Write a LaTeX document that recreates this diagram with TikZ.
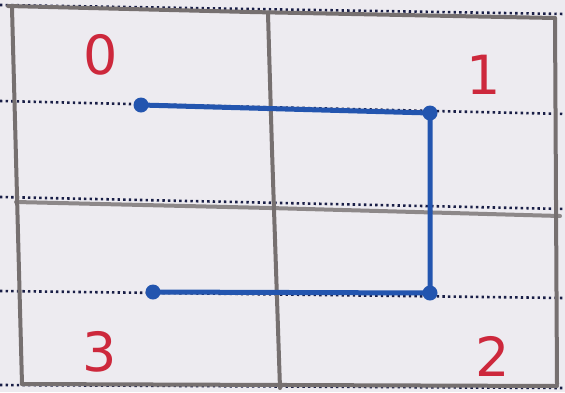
\documentclass[tikz,border=0pt]{standalone}
\usepackage{fontspec}
\setmainfont{DejaVu Sans}
\definecolor{paper}{RGB}{237,235,240}
\definecolor{pencil}{RGB}{118,112,112}
\definecolor{ink}{RGB}{35,85,175}
\definecolor{redink}{RGB}{205,40,60}
\definecolor{dotink}{RGB}{25,30,70}
\tikzset{
  pencilline/.style={draw=pencil, line width=4pt, line cap=round},
  ruled/.style={draw=dotink, line width=2.6pt, dash pattern=on 2.4pt off 3.2pt},
  inkline/.style={draw=ink, line width=5pt, line join=round},
  inkdot/.style={circle, fill=ink, inner sep=0pt, minimum size=15pt},
  digit/.style={text=redink, font=\fontsize{54}{54}\selectfont, inner sep=0pt}
}
\begin{document}
\begin{tikzpicture}[x=1pt,y=-1pt]
\fill[paper] (0,0) rectangle (565,392);
\useasboundingbox (0,0) rectangle (565,392);
% notebook dotted rules
\draw[ruled] (0,5) -- (565,14);
\draw[ruled] (0,101) -- (565,114);
\draw[ruled] (0,197) -- (565,209);
\draw[ruled] (0,291) -- (565,298);
\draw[ruled] (0,385) -- (565,388);
% pencil grid
\draw[pencilline] (8,6) -- (250,12) -- (555,18);
\draw[pencilline] (12,8) -- (22,384);
\draw[pencilline] (555,18) -- (557,384);
\draw[pencilline] (22,384) -- (557,386);
\draw[pencilline] (268,14) -- (272,150) -- (280,388);
\draw[pencilline, line width=4pt, draw opacity=0.8] (16,202) -- (270,208) -- (560,216);
% blue path
\node[inkdot] (a) at (141,105) {};
\node[inkdot] (b) at (430,113) {};
\node[inkdot] (c) at (430,293) {};
\node[inkdot] (d) at (153,292) {};
\draw[inkline] (a.center) -- (b.center) -- (c.center) -- (d.center);
% labels
\node[digit] (n0) at (101,55) {0};
\node[digit] (n1) at (484,75) {1};
\node[digit] (n2) at (493,356) {2};
\node[digit] (n3) at (100,352) {3};
\end{tikzpicture}
\end{document}
